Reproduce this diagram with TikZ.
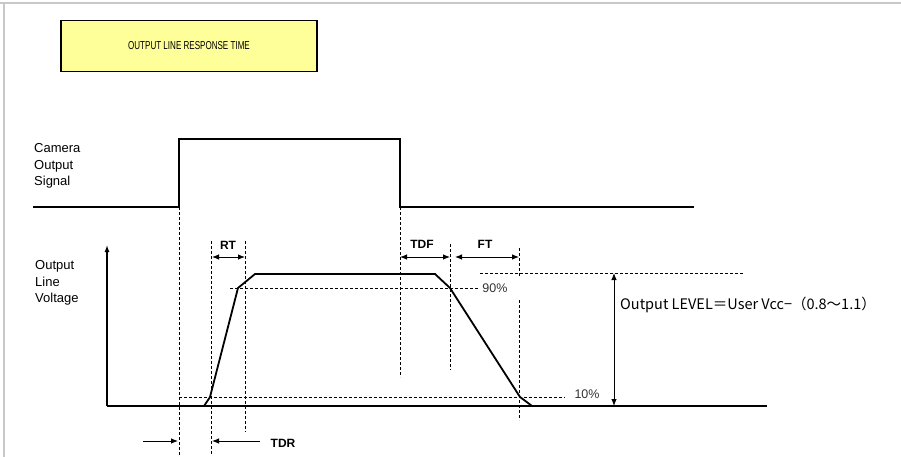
\documentclass[tikz,border=0pt]{standalone}
\usepackage{fontspec}
\setmainfont{Liberation Sans}
\newfontfamily\titlefont[FakeStretch=0.7]{Liberation Sans}
\newfontfamily\jpfont{Noto Sans CJK JP}
\usetikzlibrary{arrows.meta, calc}
\definecolor{TitleYellow}{RGB}{255,255,153}
\definecolor{FrameGray}{RGB}{200,200,200}

\begin{document}
\begin{tikzpicture}[
  x=1pt, y=-1pt,
  titlebox/.style={rectangle, draw=black, fill=TitleYellow, line width=1.2pt, minimum width=256pt, minimum height=51pt, font=\titlefont\fontsize{11.5}{13}\selectfont, inner sep=0pt},
  sidelabel/.style={anchor=west, align=left, inner sep=0pt, font=\fontsize{13}{16.5}\selectfont},
  timelabel/.style={inner sep=0pt, font=\bfseries\fontsize{12}{14}\selectfont},
  pctlabel/.style={inner sep=0pt, font=\fontsize{12.5}{14}\selectfont, black!80},
  signal/.style={line width=2pt, black, line join=miter},
  axis/.style={line width=1.3pt, -{Latex[length=7pt,width=5pt]}},
  guide/.style={dash pattern=on 3pt off 2pt, line width=0.8pt},
  dim/.style={{Latex[length=7pt,width=5.5pt]}-{Latex[length=7pt,width=5.5pt]}, line width=0.9pt},
  pointer/.style={-{Latex[length=7pt,width=5.5pt]}, line width=0.9pt}
]
\useasboundingbox (0,0) rectangle (901,457);

% screenshot frame
\draw[FrameGray, line width=1.2pt] (0,3) -- (901,3);
\draw[FrameGray, line width=1.2pt] (4,3) -- (4,457);

% Title
\node[titlebox] (title) at (189,46) {OUTPUT LINE RESPONSE TIME};

% Side labels
\node[sidelabel] (camlabel) at (34,166) {Camera\\Output\\Signal};
\node[sidelabel] (voltlabel) at (35,283) {Output\\Line\\Voltage};

% Camera output signal
\coordinate (camstart) at (33,207);
\coordinate (camrise) at (179,207);
\coordinate (camfall) at (400,207);
\coordinate (camend) at (694,207);
\draw[signal] (camstart) -- (camrise) -- ++(0,-68) -| (camfall) -- (camend);

% Voltage axis and ground line
\coordinate (origin) at (107,406);
\coordinate (axistop) at (107,245);
\coordinate (groundend) at (767,406);
\draw[axis] (origin) -- (axistop);
\draw[signal] (origin) -- (groundend);

% Output line voltage waveform
\coordinate (r0) at (204,406);
\coordinate (r10) at (210,397);
\coordinate (r90) at (238,288);
\coordinate (rtop) at (255,274);
\coordinate (ftop) at (435,274);
\coordinate (f90) at (450,288);
\coordinate (f10) at (520,397);
\coordinate (f0) at (532,406);
\draw[signal, line width=1.8pt] (r0) -- (r10) -- (r90) -- (rtop) -- (ftop) -- (f90) -- (f10) -- (f0);

% Vertical guides
\draw[guide] (camrise) -- (179,455);
\draw[guide] (211,241) -- (211,455);
\draw[guide] (245,241) -- (245,432);
\draw[guide] (camfall) -- (400,377);
\draw[guide] (450,244) -- (450,370);
\draw[guide] (519,248) -- (519,277);
\draw[guide] (519,300) -- (519,420);

% Horizontal guides
\draw[guide] (230,288) -- (478,288);
\draw[guide] (480,273) -- (743,273);
\draw[guide] (179,397) -- (565,397);

% Percent labels
\node[pctlabel] (p90) at (495,288) {90\%};
\node[pctlabel] (p10) at (587,394) {10\%};

% Timing dimensions
\coordinate (rtL) at (212,257);
\coordinate (rtR) at (245,257);
\coordinate (tdfL) at (400,257);
\coordinate (tdfR) at (450,257);
\coordinate (ftL) at (455,257);
\coordinate (ftR) at (519,257);
\draw[dim] (rtL) -- (rtR);
\draw[dim] (tdfL) -- (tdfR);
\draw[dim] (ftL) -- (ftR);
\node[timelabel] (rt) at (228,245) {RT};
\node[timelabel] (tdf) at (422,244) {TDF};
\node[timelabel] (ft) at (485,244) {FT};

% TDR
\coordinate (tdrA) at (143,441);
\coordinate (tdrB) at (178,441);
\coordinate (tdrC) at (260,441);
\coordinate (tdrD) at (212,441);
\draw[pointer] (tdrA) -- (tdrB);
\draw[pointer] (tdrC) -- (tdrD);
\node[timelabel] (tdr) at (283,443) {TDR};

% Output level
\coordinate (lvltop) at (614,273);
\coordinate (lvlbot) at (614,406);
\draw[dim] (lvltop) -- (lvlbot);
\node[anchor=west, inner sep=0pt, font=\jpfont\fontsize{14.5}{16}\selectfont] (level) at (620,305) {Output LEVEL＝User Vcc−（0.8～1.1）};

\end{tikzpicture}
\end{document}
